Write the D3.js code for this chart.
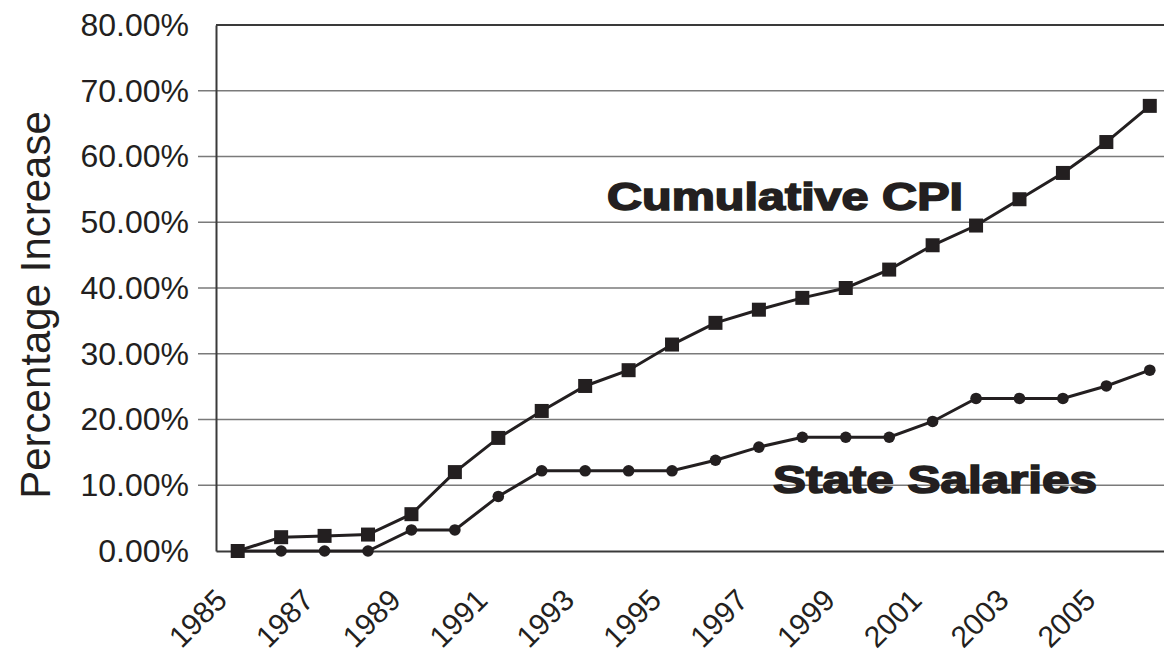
<!DOCTYPE html>
<html>
<head>
<meta charset="utf-8">
<script src="https://cdn.jsdelivr.net/npm/d3@7"></script>
<style>
  body { margin: 0; background: #fff; }
  svg { display: block; font-family: "Liberation Sans", Arial, sans-serif; }
</style>
</head>
<body>
<div id="chart"></div>
<script>
(function(){
const years = [1985, 1986, 1987, 1988, 1989, 1990, 1991, 1992, 1993, 1994, 1995,
               1996, 1997, 1998, 1999, 2000, 2001, 2002, 2003, 2004, 2005, 2006];
const cpi = [0.0, 2.1, 2.3, 2.5, 5.6, 12.0, 17.2, 21.3, 25.1, 27.5, 31.4,
             34.7, 36.7, 38.5, 40.0, 42.8, 46.5, 49.5, 53.5, 57.5, 62.2, 67.7];
const salaries = [0.0, 0.0, 0.0, 0.0, 3.2, 3.2, 8.3, 12.2, 12.2, 12.2, 12.2,
                  13.8, 15.8, 17.3, 17.3, 17.3, 19.7, 23.2, 23.2, 23.2, 25.1, 27.5];
const yTicks = [0, 10, 20, 30, 40, 50, 60, 70, 80];
const xTickYears = [1985, 1987, 1989, 1991, 1993, 1995, 1997, 1999, 2001, 2003, 2005];

const W = 1164, H = 653;
const ink = "#231f20";

const svg = d3.select("#chart").append("svg")
    .attr("width", W)
    .attr("height", H);

// Scales (plot runs past the right edge, as in the source image)
const x = d3.scaleBand()
    .domain(years)
    .range([216, 1171.5]);

const y = d3.scaleLinear()
    .domain([0, 80])
    .range([551, 25]);

const cx = d => x(d) + x.bandwidth() / 2;

// Gridlines
svg.append("g")
    .selectAll("line")
    .data(yTicks.filter(t => t > 0 && t < 80))
    .enter()
    .append("line")
    .attr("x1", 198)
    .attr("x2", x.range()[1])
    .attr("y1", d => y(d))
    .attr("y2", d => y(d))
    .attr("stroke", "#7a7a7a")
    .attr("stroke-width", 1.6);

// Top border
svg.append("line")
    .attr("x1", 216)
    .attr("x2", x.range()[1])
    .attr("y1", y(80))
    .attr("y2", y(80))
    .attr("stroke", "#3a3a3a")
    .attr("stroke-width", 2);

// Y axis
const yAxis = svg.append("g")
    .attr("transform", "translate(216,0)")
    .call(d3.axisLeft(y)
        .tickValues(yTicks)
        .tickSizeInner(0)
        .tickSizeOuter(0)
        .tickPadding(27)
        .tickFormat(d => d.toFixed(2) + "%"));
yAxis.attr("font-family", null);
yAxis.select(".domain").attr("stroke", "#3a3a3a").attr("stroke-width", 2);
yAxis.selectAll("text")
    .attr("fill", ink)
    .style("font-size", "32px");

// X axis
const xAxis = svg.append("g")
    .attr("transform", "translate(0,551)")
    .call(d3.axisBottom(x)
        .tickValues(xTickYears)
        .tickSize(0)
        .tickSizeOuter(0));
xAxis.attr("font-family", null);
xAxis.select(".domain").attr("stroke", "#3a3a3a").attr("stroke-width", 2);
xAxis.selectAll("text")
    .attr("fill", ink)
    .style("font-size", "30px")
    .attr("text-anchor", "end")
    .attr("y", 0)
    .attr("dy", 0)
    .attr("transform", "translate(-9,51) rotate(-45)");

// Y axis title
svg.append("text")
    .attr("transform", "translate(50,305) rotate(-90)")
    .attr("text-anchor", "middle")
    .attr("fill", ink)
    .style("font-size", "42px")
    .text("Percentage Increase");

// Lines
const line = d3.line()
    .x((d, i) => cx(years[i]))
    .y(d => y(d));

svg.append("path")
    .datum(salaries)
    .attr("fill", "none")
    .attr("stroke", ink)
    .attr("stroke-width", 3)
    .attr("d", line);

svg.append("path")
    .datum(cpi)
    .attr("fill", "none")
    .attr("stroke", ink)
    .attr("stroke-width", 3)
    .attr("d", line);

// Markers
svg.selectAll(".sal-pt")
    .data(salaries)
    .enter()
    .append("circle")
    .attr("class", "sal-pt")
    .attr("cx", (d, i) => cx(years[i]))
    .attr("cy", d => y(d))
    .attr("r", 5.8)
    .attr("fill", ink);

const sq = 14;
svg.selectAll(".cpi-pt")
    .data(cpi)
    .enter()
    .append("rect")
    .attr("class", "cpi-pt")
    .attr("x", (d, i) => cx(years[i]) - sq / 2)
    .attr("y", d => y(d) - sq / 2)
    .attr("width", sq)
    .attr("height", sq)
    .attr("fill", ink);

// Series labels
svg.append("text")
    .attr("x", 607)
    .attr("y", 210)
    .attr("textLength", 356)
    .attr("lengthAdjust", "spacingAndGlyphs")
    .attr("fill", ink)
    .attr("stroke", ink)
    .attr("stroke-width", 1.6)
    .style("font-size", "38px")
    .style("font-weight", "bold")
    .text("Cumulative CPI");

svg.append("text")
    .attr("x", 773)
    .attr("y", 493)
    .attr("textLength", 324)
    .attr("lengthAdjust", "spacingAndGlyphs")
    .attr("fill", ink)
    .attr("stroke", ink)
    .attr("stroke-width", 1.6)
    .style("font-size", "38px")
    .style("font-weight", "bold")
    .text("State Salaries");
})();
</script>
</body>
</html>
